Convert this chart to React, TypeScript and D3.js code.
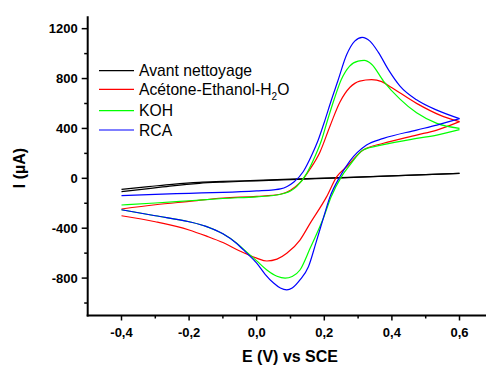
import React from "react";
import * as d3 from "d3";

type Pt = [number, number];

// E (V) vs I (µA); forward (anodic) and reverse (cathodic) branches, ascending E
const avantFwd: Pt[] = [[-0.4,-107],[-0.32,-83],[-0.25,-60],[-0.17,-40],[-0.1,-30],[0,-20],[0.1,-10],[0.25,4],[0.4,19],[0.6,40]];
const avantRev: Pt[] = [[-0.4,-88],[-0.32,-67],[-0.25,-48],[-0.17,-32],[-0.1,-25],[0,-16],[0.1,-7],[0.25,5],[0.4,19],[0.6,40]];

const acetoneFwd: Pt[] = [[-0.4,-246],[-0.3,-212],[-0.2,-185],[-0.1,-158],[0,-145],[0.07,-128],[0.1,-95],[0.128,-35],[0.158,75],[0.187,210],[0.217,420],[0.246,610],[0.276,730],[0.305,780],[0.34,792],[0.37,775],[0.395,735],[0.473,601],[0.542,507],[0.6,455]];
const acetoneRev: Pt[] = [[-0.4,-300],[-0.3,-348],[-0.2,-414],[-0.15,-462],[-0.1,-515],[-0.05,-583],[0,-640],[0.03,-663],[0.06,-648],[0.089,-601],[0.128,-495],[0.158,-361],[0.207,-147],[0.237,13],[0.266,93],[0.315,227],[0.375,281],[0.473,347],[0.533,387],[0.6,455]];

const kohFwd: Pt[] = [[-0.4,-214],[-0.3,-198],[-0.2,-180],[-0.1,-162],[0,-148],[0.05,-138],[0.08,-122],[0.1,-102],[0.118,-67],[0.148,40],[0.172,173],[0.192,307],[0.21,470],[0.23,640],[0.25,790],[0.275,900],[0.3,940],[0.318,945],[0.34,915],[0.375,780],[0.424,635],[0.473,525],[0.533,441],[0.6,401]];
const kohRev: Pt[] = [[-0.4,-252],[-0.3,-300],[-0.2,-348],[-0.15,-385],[-0.1,-445],[-0.06,-518],[-0.03,-590],[0,-662],[0.03,-735],[0.06,-785],[0.084,-800],[0.105,-787],[0.128,-735],[0.158,-561],[0.2,-300],[0.22,-150],[0.25,10],[0.276,107],[0.315,227],[0.375,270],[0.473,320],[0.533,347],[0.6,390]];

const rcaFwd: Pt[] = [[-0.4,-139],[-0.3,-128],[-0.2,-120],[-0.1,-112],[0,-100],[0.05,-92],[0.07,-85],[0.09,-65],[0.11,-30],[0.138,55],[0.163,187],[0.182,307],[0.2,450],[0.22,620],[0.24,780],[0.266,990],[0.29,1100],[0.312,1130],[0.335,1100],[0.36,1010],[0.39,870],[0.424,740],[0.473,630],[0.533,547],[0.6,479]];
const rcaRev: Pt[] = [[-0.4,-252],[-0.3,-300],[-0.2,-348],[-0.15,-385],[-0.1,-445],[-0.06,-520],[-0.03,-598],[0,-680],[0.025,-770],[0.05,-840],[0.07,-880],[0.089,-895],[0.105,-880],[0.128,-815],[0.153,-709],[0.175,-520],[0.197,-321],[0.217,-147],[0.246,13],[0.276,140],[0.325,267],[0.375,320],[0.473,387],[0.533,427],[0.6,479]];

const seriesNames = ["Avant nettoyage", "Acétone-Ethanol-H2O", "KOH", "RCA"];
const seriesColors = ["#000000", "#ff0000", "#00ff00", "#0000ff"];
const seriesBranches: Pt[][][] = [[avantFwd, avantRev], [acetoneFwd, acetoneRev], [kohFwd, kohRev], [rcaFwd, rcaRev]];

const yMajor = [-800, -400, 0, 400, 800, 1200];
const yMinor = [-1000, -600, -200, 200, 600, 1000];
const xMajor = [-0.4, -0.2, 0, 0.2, 0.4, 0.6];
const xMinor = [-0.3, -0.1, 0.1, 0.3, 0.5];

export default function App() {
  const W = 486, H = 365;
  const x = d3.scaleLinear().domain([-0.5, 0.7]).range([87.7, 493.3]);
  const y = d3.scaleLinear().domain([-1100, 1300]).range([315.5, 16.2]);
  const line = d3.line<Pt>().x(d => x(d[0])).y(d => y(d[1])).curve(d3.curveMonotoneX);
  const x0 = x(-0.5), yb = y(-1100);
  const font = "'Liberation Sans', Arial, sans-serif";
  const fmtX = (v: number) => (Math.abs(v) < 1e-9 ? "0,0" : d3.format(".1f")(v).replace(".", ",").replace("−", "-"));
  const legendY = [70.7, 89.3, 110.7, 130];
  return (
    <svg width={W} height={H} style={{ position: "absolute", left: 0, top: 0, background: "#fff" }} fontFamily={font}>
      <rect x={0} y={0} width={W} height={H} fill="#fff" />
      {seriesBranches.map((br, i) =>
        br.map((b, j) => (
          <path key={i + "-" + j} d={line(b) || ""} fill="none" stroke={seriesColors[i]} strokeWidth={1.2} />
        ))
      )}
      {/* axes */}
      <line x1={x0} x2={x0} y1={y(1300)} y2={yb + 1} stroke="#000" strokeWidth={2} />
      <line x1={x0 - 1} x2={W} y1={yb} y2={yb} stroke="#000" strokeWidth={2} />
      {yMajor.map(v => (
        <g key={"ym" + v}>
          <line x1={x0 - 6} x2={x0} y1={y(v)} y2={y(v)} stroke="#000" strokeWidth={1.5} />
          <text x={x0 - 10} y={y(v) + 4.5} textAnchor="end" fontSize={13} fontWeight="bold">{v === 0 ? "0" : String(v)}</text>
        </g>
      ))}
      {yMinor.map(v => (
        <line key={"yn" + v} x1={x0 - 3.5} x2={x0} y1={y(v)} y2={y(v)} stroke="#000" strokeWidth={1.5} />
      ))}
      {xMajor.map(v => (
        <g key={"xm" + v}>
          <line x1={x(v)} x2={x(v)} y1={yb} y2={yb + 5} stroke="#000" strokeWidth={1.5} />
          <text x={x(v)} y={336.5} textAnchor="middle" fontSize={13} fontWeight="bold">{fmtX(v)}</text>
        </g>
      ))}
      {xMinor.map(v => (
        <line key={"xn" + v} x1={x(v)} x2={x(v)} y1={yb} y2={yb + 3} stroke="#000" strokeWidth={1.5} />
      ))}
      <text x={290} y={362} textAnchor="middle" fontSize={16} fontWeight="bold">E (V) vs SCE</text>
      <text transform="translate(25,168) rotate(-90)" textAnchor="middle" fontSize={16} fontWeight="bold">I (µA)</text>
      {/* legend */}
      {seriesNames.map((n, i) => (
        <g key={"lg" + i}>
          <line x1={99} x2={134} y1={legendY[i]} y2={legendY[i]} stroke={seriesColors[i]} strokeWidth={1.2} />
          <text x={139} y={legendY[i] + 5.6} fontSize={15.7}>
            {n.endsWith("H2O") ? (
              <>
                {n.slice(0, -2)}
                <tspan fontSize={10} dy={5}>2</tspan>
                <tspan dy={-5}>O</tspan>
              </>
            ) : n}
          </text>
        </g>
      ))}
    </svg>
  );
}
